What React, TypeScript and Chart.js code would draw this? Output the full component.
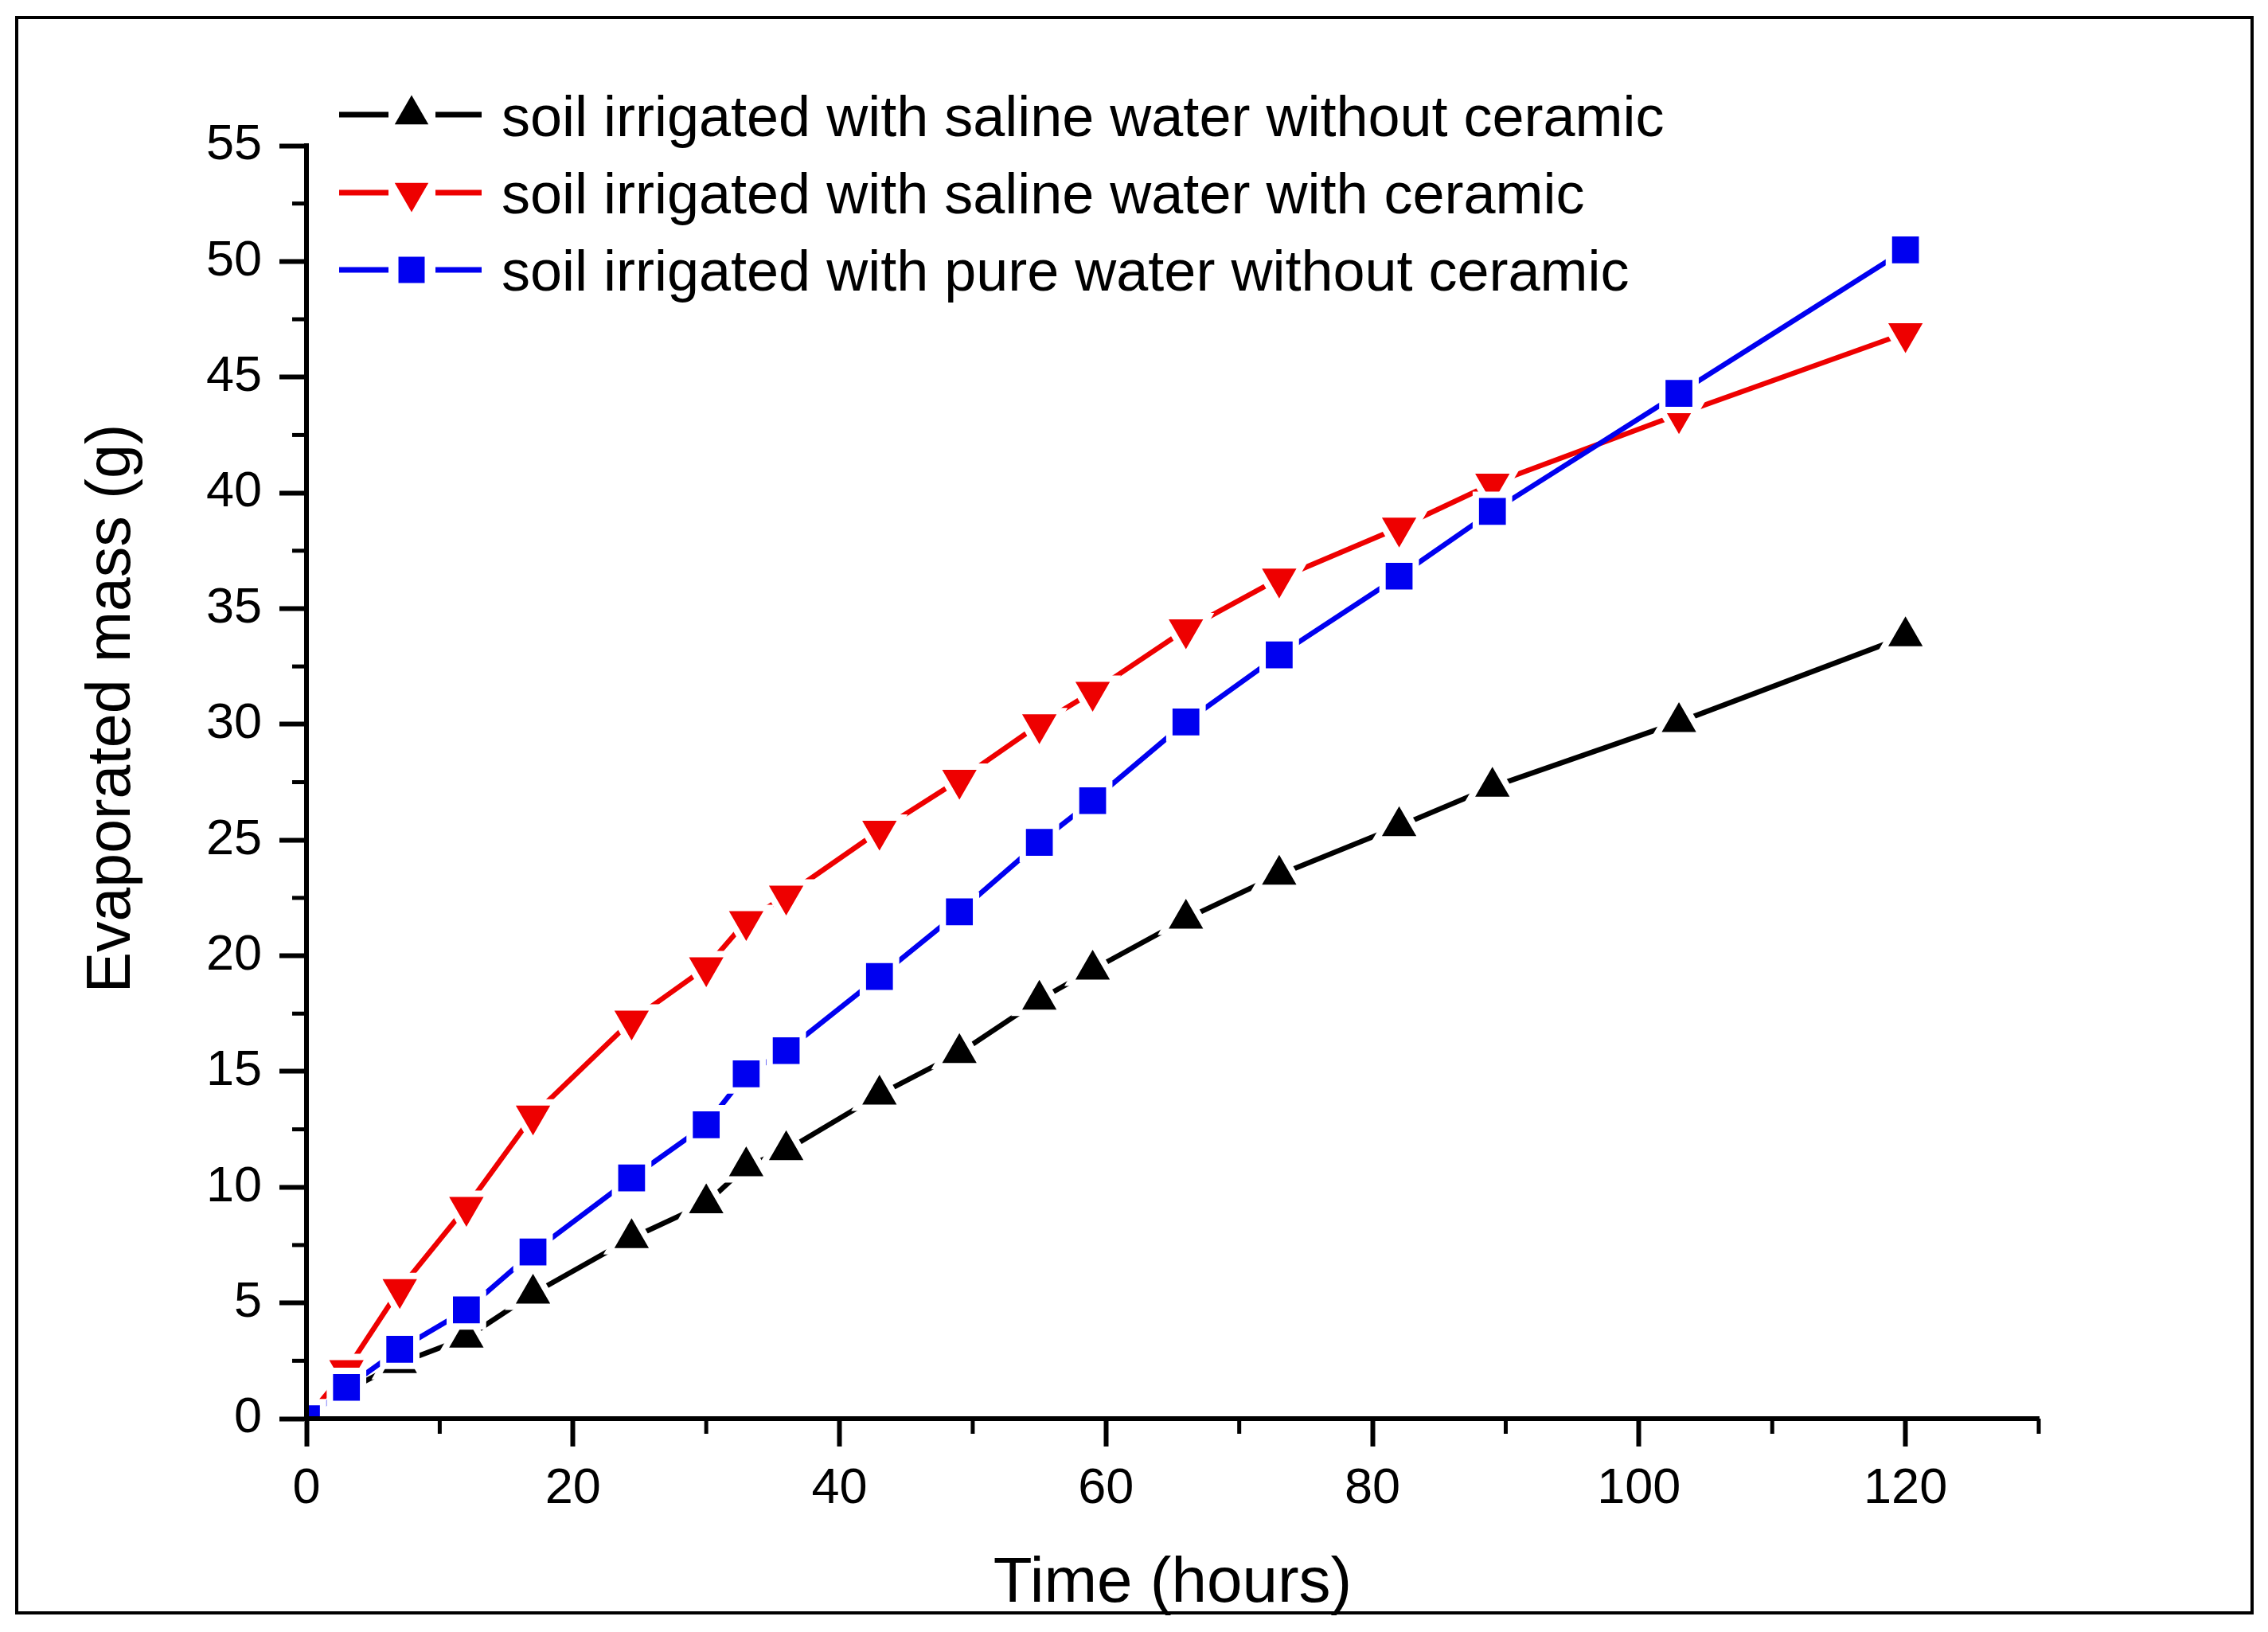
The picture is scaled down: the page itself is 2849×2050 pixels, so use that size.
import React, { useEffect, useRef } from 'react';
import { Chart, registerables } from 'chart.js';

Chart.register(...registerables);

// ---- data ----
const timeHours = [0, 3, 7, 12, 17, 24.4, 30, 33, 36, 43, 49, 55, 59, 66, 73, 82, 89, 103, 120];
const salineNoCeramic = [0, 1.2, 2.4, 3.5, 5.4, 7.8, 9.3, 10.9, 11.6, 14.0, 15.8, 18.1, 19.4, 21.6, 23.5, 25.6, 27.3, 30.1, 33.8];
const salineWithCeramic = [0, 2.1, 5.6, 9.15, 13.1, 17.2, 19.5, 21.5, 22.6, 25.4, 27.6, 30.0, 31.4, 34.1, 36.3, 38.5, 40.4, 43.4, 46.9];
const pureNoCeramic = [0, 1.35, 3.0, 4.7, 7.2, 10.4, 12.7, 14.9, 15.9, 19.1, 21.9, 24.9, 26.7, 30.1, 33.0, 36.4, 39.2, 44.3, 50.5];

const seriesLabels = [
  'soil irrigated with saline water without ceramic',
  'soil irrigated with saline water with ceramic',
  'soil irrigated with pure water without ceramic',
];
const seriesColors = ['#000000', '#ee0000', '#0000f0'];
const seriesMarkers = ['triangle', 'triangleDown', 'rect'];

const xTitle = 'Time (hours)';
const yTitle = 'Evaporated mass (g)';
const xMajorStep = 20;
const yMajorStep = 5;
const xMinorTicks = [10, 30, 50, 70, 90, 110, 130];
const yMinorTicks = [2.5, 7.5, 12.5, 17.5, 22.5, 27.5, 32.5, 37.5, 42.5, 47.5, 52.5];

const FONT = '"Liberation Sans", Arial, Helvetica, sans-serif';

function toPoints(ys: number[]) {
  return ys.map((y, i) => ({ x: timeHours[i], y }));
}

function drawMarker(ctx: CanvasRenderingContext2D, style: string, cx: number, cy: number, r: number, color: string) {
  ctx.fillStyle = color;
  ctx.beginPath();
  if (style === 'rect') {
    const s = r * Math.SQRT1_2;
    ctx.rect(cx - s, cy - s, 2 * s, 2 * s);
  } else {
    const rot = style === 'triangleDown' ? Math.PI : 0;
    for (let k = 0; k < 3; k++) {
      const a = rot + (k * 2 * Math.PI) / 3;
      const px = cx + Math.sin(a) * r;
      const py = cy - Math.cos(a) * r;
      if (k === 0) ctx.moveTo(px, py);
      else ctx.lineTo(px, py);
    }
    ctx.closePath();
  }
  ctx.fill();
}

const decorPlugin = {
  id: 'decor',
  beforeDraw(chart: any) {
    const { ctx, width, height } = chart;
    ctx.save();
    ctx.fillStyle = '#ffffff';
    ctx.fillRect(0, 0, width, height);
    ctx.restore();
  },
  afterDraw(chart: any) {
    const { ctx, chartArea } = chart;
    const xs = chart.scales.x;
    const ys = chart.scales.y;
    ctx.save();
    // minor ticks
    ctx.strokeStyle = '#000';
    ctx.lineWidth = 5;
    ctx.lineCap = 'butt';
    xMinorTicks.forEach((v) => {
      const px = xs.getPixelForValue(v);
      ctx.beginPath();
      ctx.moveTo(px, chartArea.bottom);
      ctx.lineTo(px, chartArea.bottom + 19);
      ctx.stroke();
    });
    yMinorTicks.forEach((v) => {
      const py = ys.getPixelForValue(v);
      ctx.beginPath();
      ctx.moveTo(chartArea.left, py);
      ctx.lineTo(chartArea.left - 18, py);
      ctx.stroke();
    });

    // axis titles
    ctx.fillStyle = '#000';
    ctx.textAlign = 'center';
    ctx.textBaseline = 'middle';
    ctx.font = `80px ${FONT}`;
    ctx.fillText(xTitle, (chartArea.left + chartArea.right) / 2, 1990);
    ctx.save();
    ctx.translate(142, 890);
    ctx.rotate(-Math.PI / 2);
    ctx.font = `77px ${FONT}`;
    ctx.fillText(yTitle, 0, 0);
    ctx.restore();

    // legend
    const rowY = [144, 242, 339];
    const baseY = [171, 268, 365];
    ctx.font = `72px ${FONT}`;
    ctx.textAlign = 'left';
    ctx.textBaseline = 'alphabetic';
    for (let i = 0; i < 3; i++) {
      ctx.strokeStyle = seriesColors[i];
      ctx.lineWidth = 7;
      ctx.beginPath();
      ctx.moveTo(426, rowY[i]);
      ctx.lineTo(488, rowY[i]);
      ctx.moveTo(547, rowY[i]);
      ctx.lineTo(605, rowY[i]);
      ctx.stroke();
      const r = seriesMarkers[i] === 'rect' ? 23.3 : 24.5;
      drawMarker(ctx, seriesMarkers[i], 517, rowY[i], r, seriesColors[i]);
      ctx.fillStyle = '#000';
      ctx.fillText(seriesLabels[i], 630, baseY[i]);
    }

    // outer frame
    ctx.strokeStyle = '#000';
    ctx.lineWidth = 4;
    ctx.strokeRect(21, 22, 2808, 2004);
    ctx.restore();
  },
};

export default function App() {
  const canvasRef = useRef<HTMLCanvasElement | null>(null);

  useEffect(() => {
    if (!canvasRef.current) return;
    const rawSeries = [salineNoCeramic, salineWithCeramic, pureNoCeramic];
    const drawOrder = [2, 1, 0];
    const datasets = rawSeries.map((ys, i) => {
      const marker = seriesMarkers[i];
      return {
        label: seriesLabels[i],
        data: toPoints(ys),
        borderColor: seriesColors[i],
        backgroundColor: seriesColors[i],
        borderWidth: 6.5,
        tension: 0,
        fill: false,
        clip: 0,
        order: drawOrder[i],
        pointStyle: marker === 'rect' ? 'rect' : 'triangle',
        pointRotation: marker === 'triangleDown' ? 180 : 0,
        pointRadius: marker === 'rect' ? 29.5 : 33,
        pointHoverRadius: marker === 'rect' ? 29.5 : 33,
        pointBackgroundColor: seriesColors[i],
        pointBorderColor: '#ffffff',
        pointBorderWidth: 8,
        pointHoverBorderWidth: 8,
      };
    });

    const chart = new Chart(canvasRef.current, {
      type: 'line',
      data: { datasets } as any,
      plugins: [decorPlugin],
      options: {
        animation: false,
        responsive: false,
        devicePixelRatio: 1,
        layout: { padding: { left: 0, top: 183, right: 288, bottom: 0 } },
        plugins: {
          legend: { display: false },
          tooltip: { enabled: false },
          title: { display: false },
        },
        events: [],
        scales: {
          x: {
            type: 'linear',
            min: 0,
            max: 130,
            afterFit: (scale: any) => {
              scale.height = 268;
            },
            afterBuildTicks: (scale: any) => {
              scale.ticks = scale.ticks.filter((t: any) => t.value % xMajorStep === 0);
            },
            ticks: {
              stepSize: xMajorStep,
              color: '#000',
              padding: 16,
              maxRotation: 0,
              font: { size: 63, family: FONT },
            },
            grid: {
              display: true,
              drawOnChartArea: false,
              drawTicks: true,
              tickLength: 35,
              tickWidth: 6,
              tickColor: '#000',
            },
            border: { display: true, color: '#000', width: 6, z: 1 },
            title: { display: false },
          },
          y: {
            type: 'linear',
            min: 0,
            max: 55,
            afterFit: (scale: any) => {
              scale.width = 385;
            },
            ticks: {
              stepSize: yMajorStep,
              color: '#000',
              padding: 22,
              font: { size: 63, family: FONT },
            },
            grid: {
              display: true,
              drawOnChartArea: false,
              drawTicks: true,
              tickLength: 34,
              tickWidth: 6,
              tickColor: '#000',
            },
            border: { display: true, color: '#000', width: 6, z: 1 },
            title: { display: false },
          },
        },
      } as any,
    });
    return () => chart.destroy();
  }, []);

  return (
    <div style={{ position: 'absolute', left: 0, top: 0, width: 2849, height: 2050, background: '#fff' }}>
      <canvas ref={canvasRef} width={2849} height={2050} style={{ display: 'block', width: 2849, height: 2050 }} />
    </div>
  );
}
